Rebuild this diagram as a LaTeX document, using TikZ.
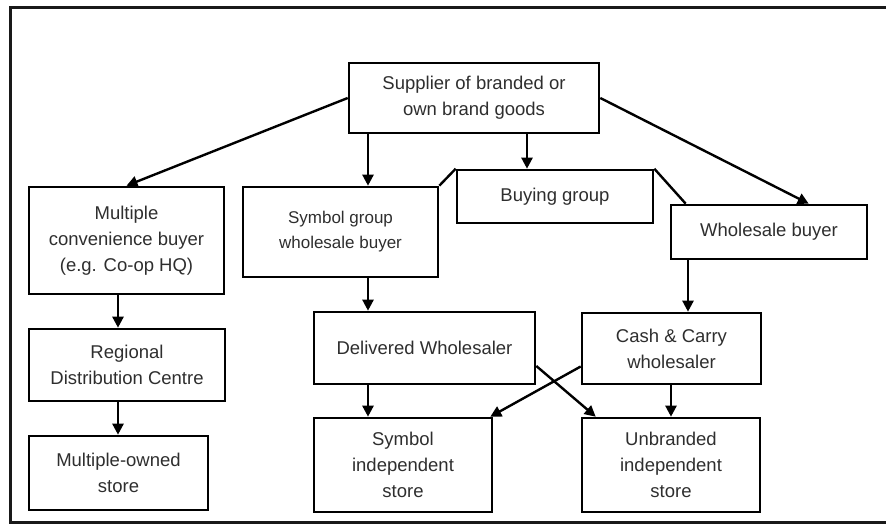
\documentclass[tikz,border=0pt]{standalone}
\usepackage{fontspec}
\setmainfont{Liberation Sans}
\usetikzlibrary{arrows.meta,calc}

\tikzset{
  box/.style={draw=black, line width=2.6pt, rectangle, inner sep=0pt,
    align=center, text=black!82, font=\fontsize{18.5}{26}\selectfont},
  flow/.style={draw=black, line width=2.4pt,
    -{Triangle[length=11pt,width=11pt]}},
  link/.style={draw=black, line width=2.4pt},
  frame/.style={draw=black!90, line width=3pt}
}

\begin{document}
\begin{tikzpicture}[x=1pt, y=-1pt]
  \useasboundingbox (0,0) rectangle (886,527);
  \clip (0,0) rectangle (886,527);

  % outer frame
  \draw[frame] (10,8) rectangle (892,522);

  % column positions for the vertical connectors
  \coordinate (colA) at (368,0);
  \coordinate (colB) at (527,0);
  \coordinate (colC) at (688,0);
  \coordinate (colD) at (671,0);
  \coordinate (colE) at (118,0);

  % boxes
  \node[box, minimum width=250pt, minimum height=70pt] (sup) at (474,98)
    {Supplier of branded or\\own brand goods};
  \node[box, minimum width=195pt, minimum height=107pt] (mcb) at (126.5,240.5)
    {Multiple\\convenience buyer\\(e.g. Co-op HQ)};
  \node[box, minimum width=196pt, minimum height=72pt] (rdc) at (127,365)
    {Regional\\Distribution Centre};
  \node[box, minimum width=179pt, minimum height=74pt] (mos) at (118.5,473)
    {Multiple-owned\\store};
  \node[box, minimum width=195pt, minimum height=90pt,
        font=\fontsize{17}{25}\selectfont] (sgw) at (340.5,232)
    {Symbol group\\wholesale buyer};
  \node[box, minimum width=196pt, minimum height=53pt] (bg) at (555,196.5)
    {Buying group};
  \node[box, minimum width=196pt, minimum height=54pt] (wb) at (769,232)
    {Wholesale buyer};
  \node[box, minimum width=221pt, minimum height=72pt] (dw) at (424.5,348)
    {Delivered Wholesaler};
  \node[box, minimum width=179pt, minimum height=71pt] (cc) at (671.5,348.5)
    {Cash \& Carry\\wholesaler};
  \node[box, minimum width=178pt, minimum height=94pt] (sis) at (403,465)
    {Symbol\\independent\\store};
  \node[box, minimum width=178pt, minimum height=94pt] (uis) at (671,465)
    {Unbranded\\independent\\store};

  % supplier outlets
  \draw[flow] (sup.west) -- (mcb.north);
  \draw[flow] (sup.east) -- ($(wb.north west)!0.7!(wb.north east)$);
  \draw[flow] (sup.south -| colA) -- (sgw.north -| colA);
  \draw[flow] (sup.south -| colB) -- (bg.north -| colB);

  % buying group ties
  \draw[link] (sgw.north east) -- (bg.north west);
  \draw[link] (bg.north east) -- ([xshift=16pt]wb.north west);

  % multiple chain
  \draw[flow] (mcb.south -| colE) -- (rdc.north -| colE);
  \draw[flow] (rdc.south -| colE) -- (mos.north -| colE);

  % wholesale chains
  \draw[flow] (sgw.south -| colA) -- (dw.north -| colA);
  \draw[flow] (wb.south -| colC) -- (cc.north -| colC);
  \draw[flow] (dw.south -| colA) -- (sis.north -| colA);
  \draw[flow] (cc.south -| colD) -- (uis.north -| colD);
  \draw[flow] ([yshift=-18pt]dw.east) -- ([xshift=15pt]uis.north west);
  \draw[flow] ([yshift=-18pt]cc.west) -- ([xshift=-3pt]sis.north east);
\end{tikzpicture}
\end{document}
